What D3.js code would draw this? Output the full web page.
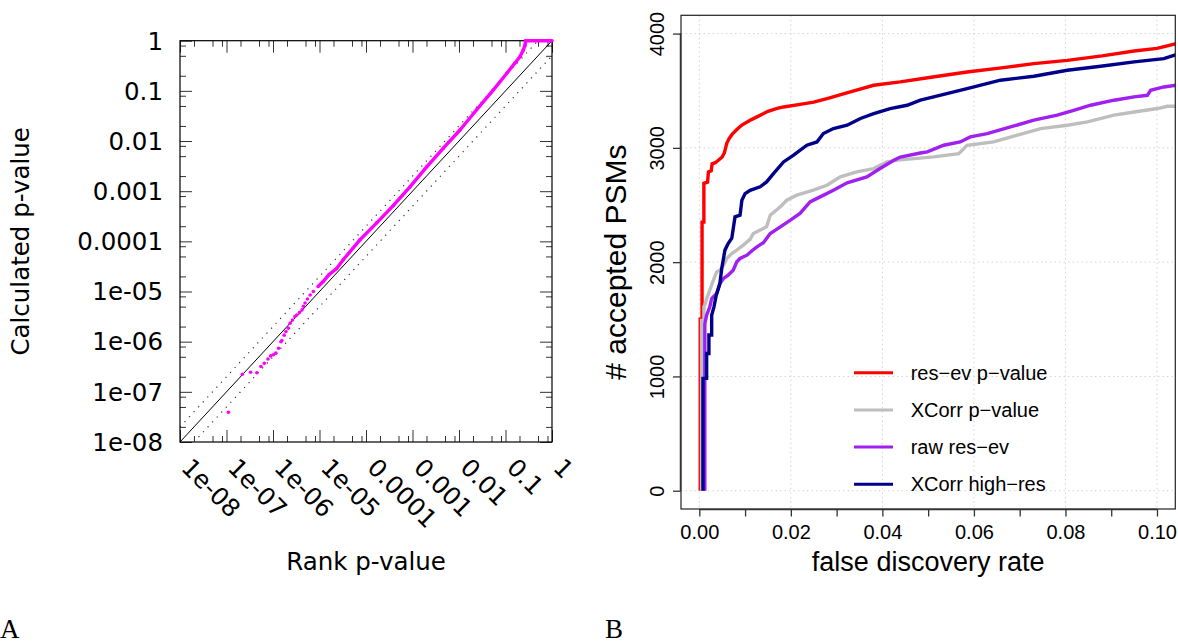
<!DOCTYPE html>
<html><head><meta charset="utf-8">
<script src="https://cdn.jsdelivr.net/npm/d3@7"></script>
<style>body{margin:0;background:#fff} svg{display:block}</style>
</head><body>
<svg id="c" width="1178" height="644"></svg>
<script>
// ---------------- Panel A data ----------------
const rankSparse = [1.1e-7, 2.19e-7, 3.3e-7, 4.5e-7, 5.5e-7, 6.5e-7, 7.8e-7, 8.9e-7, 1.02e-6, 1.15e-6, 1.32e-6, 1.48e-6, 1.55e-6, 1.74e-6, 1.9e-6, 2.14e-6, 2.34e-6, 2.63e-6, 2.95e-6, 3.24e-6, 3.7e-6, 4.2e-6, 4.5e-6, 4.9e-6, 5.5e-6, 6.3e-6, 7.4e-6];
const calcSparse = [3.9e-8, 2.24e-7, 2.45e-7, 2.4e-7, 3.2e-7, 3.7e-7, 4.5e-7, 5.2e-7, 5.5e-7, 5.9e-7, 7.4e-7, 1.0e-6, 1.05e-6, 1.35e-6, 1.6e-6, 1.86e-6, 2.34e-6, 2.7e-6, 3.16e-6, 3.4e-6, 3.8e-6, 4.3e-6, 5.1e-6, 5.9e-6, 7.1e-6, 8.5e-6, 1.0e-5];
const rankDense = [9.3e-6, 1.2e-5, 1.58e-5, 2.34e-5, 3.24e-5, 7.4e-5, 1.7e-4, 3.9e-4, 8.9e-4, 2.04e-3, 4.6e-3, 1.05e-2, 2.4e-2, 5.5e-2, 0.107, 0.158, 0.204, 0.24, 0.263, 0.269, 0.27, 1];
const calcDense = [1.26e-5, 1.58e-5, 2.14e-5, 2.88e-5, 4.3e-5, 1.07e-4, 2.34e-4, 5.2e-4, 1.23e-3, 3.1e-3, 7.2e-3, 1.66e-2, 4.2e-2, 0.105, 0.224, 0.355, 0.479, 0.646, 0.81, 0.955, 1, 1];
const logTickValues = [1e-8, 1e-7, 1e-6, 1e-5, 1e-4, 1e-3, 1e-2, 1e-1, 1];
const logTickLabels = ["1e-08", "1e-07", "1e-06", "1e-05", "0.0001", "0.001", "0.01", "0.1", "1"];
const minorMultiples = [2, 5, 8];
const bandFactor = 2;

// ---------------- Panel B data ----------------
const fdrRed = [0.0002,0.0002,0.0006,0.0006,0.0010,0.0010,0.0018,0.0020,0.0026,0.0028,0.0035,0.0050,0.0055,0.0060,0.0065,0.0072,0.0082,0.0093,0.0110,0.0126,0.0150,0.0170,0.0184,0.0220,0.0250,0.0279,0.0330,0.0381,0.0439,0.0510,0.0585,0.0660,0.0731,0.0804,0.0880,0.0950,0.1000,0.1042];
const psmRed = [0,1500,1500,2350,2350,2690,2700,2790,2800,2860,2870,2920,2960,3040,3080,3120,3160,3200,3240,3271,3320,3345,3358,3380,3400,3431,3490,3548,3577,3620,3664,3700,3737,3766,3805,3848,3870,3912];
const fdrGray = [0.0005,0.0005,0.0010,0.0010,0.0012,0.0016,0.0023,0.0032,0.0038,0.0045,0.0053,0.0060,0.0071,0.0082,0.0096,0.0111,0.0118,0.0147,0.0155,0.0177,0.0191,0.0213,0.0249,0.0279,0.0308,0.0344,0.0381,0.0410,0.0439,0.0512,0.0567,0.0585,0.0643,0.0695,0.0746,0.0804,0.0848,0.0906,0.0950,0.1001,0.1023,0.1042];
const psmGray = [0,1490,1490,1610,1625,1680,1755,1857,1915,1930,1974,2032,2076,2105,2149,2200,2251,2309,2411,2484,2542,2586,2630,2673,2746,2790,2819,2877,2895,2921,2950,3023,3052,3111,3169,3198,3227,3286,3314,3344,3364,3364];
const fdrPurple = [0.0012,0.0012,0.0016,0.0023,0.0027,0.0038,0.0045,0.0053,0.0063,0.0074,0.0082,0.0089,0.0104,0.0115,0.0126,0.0140,0.0155,0.0177,0.0199,0.0220,0.0242,0.0264,0.0293,0.0323,0.0366,0.0395,0.0425,0.0439,0.0483,0.0498,0.0534,0.0570,0.0592,0.0629,0.0680,0.0731,0.0782,0.0818,0.0855,0.0906,0.0950,0.0979,0.0986,0.1015,0.1042];
const psmPurple = [0,1460,1536,1609,1682,1726,1813,1857,1886,1930,2003,2032,2061,2100,2134,2170,2251,2309,2367,2426,2527,2571,2630,2694,2746,2819,2892,2920,2955,2965,3023,3052,3096,3125,3183,3242,3286,3329,3373,3417,3446,3460,3504,3533,3548];
const fdrNavy = [0.0008,0.0008,0.0016,0.0016,0.0021,0.0021,0.0027,0.0027,0.0032,0.0037,0.0045,0.0049,0.0056,0.0063,0.0071,0.0078,0.0089,0.0093,0.0100,0.0111,0.0133,0.0147,0.0162,0.0184,0.0206,0.0235,0.0257,0.0271,0.0293,0.0323,0.0352,0.0381,0.0417,0.0454,0.0483,0.0512,0.0585,0.0658,0.0731,0.0804,0.0877,0.0950,0.1015,0.1042];
const psmNavy = [0,983,983,1201,1201,1362,1362,1536,1609,1711,1813,1945,2105,2163,2210,2396,2411,2542,2600,2629,2659,2702,2775,2877,2936,3023,3052,3125,3169,3198,3257,3300,3344,3373,3417,3446,3519,3592,3627,3679,3714,3752,3781,3816];
const seriesNames = ["res\u2212ev p\u2212value", "XCorr p\u2212value", "raw res\u2212ev", "XCorr high\u2212res"];
const seriesColors = ["#ff0000", "#bebebe", "#a020f0", "#00008b"];
const fdrTickValues = [0, 0.01, 0.02, 0.03, 0.04, 0.05, 0.06, 0.07, 0.08, 0.09, 0.10];
const fdrTickLabels = ["0.00", "", "0.02", "", "0.04", "", "0.06", "", "0.08", "", "0.10"];
const psmTickValues = [0, 1000, 2000, 3000, 4000];
const psmTickLabels = ["0", "1000", "2000", "3000", "4000"];

const svg = d3.select("#c");

// ================= Panel A =================
const A = {l: 180, r: 552, t: 40.7, b: 442};
const xL = d3.scaleLog().domain([1e-8, 1]).range([A.l, A.r]);
const yL = d3.scaleLog().domain([1e-8, 1]).range([A.b, A.t]);
const fontA = "'DejaVu Sans', sans-serif";

const minorVals = [];
for (let k = 0; k < logTickValues.length - 1; k++) minorMultiples.forEach(m => minorVals.push(logTickValues[k] * m));

const gA = svg.append("g");
function drawTicks(axisFn, scale, vals, size, transform) {
  const g = gA.append("g").attr("transform", transform)
    .call(axisFn(scale).tickValues(vals).tickSize(size).tickSizeOuter(0).tickFormat(""));
  g.select(".domain").remove();
  g.selectAll("line").attr("stroke", "#333").attr("stroke-width", 1);
}
[[logTickValues, -12], [minorVals, -6]].forEach(([vals, s]) => {
  drawTicks(d3.axisBottom, xL, vals, s, `translate(0,${A.b})`);
  drawTicks(d3.axisTop, xL, vals, s, `translate(0,${A.t})`);
  drawTicks(d3.axisLeft, yL, vals, s, `translate(${A.l},0)`);
  drawTicks(d3.axisRight, yL, vals, s, `translate(${A.r},0)`);
});
gA.append("rect").attr("x", A.l).attr("y", A.t).attr("width", A.r - A.l).attr("height", A.b - A.t)
  .attr("fill", "none").attr("stroke", "#000").attr("stroke-width", 1.2);

// reference lines
svg.append("clipPath").attr("id", "clipA").append("rect")
  .attr("x", A.l).attr("y", A.t).attr("width", A.r - A.l).attr("height", A.b - A.t);
const lineL = d3.line().x(d => xL(d[0])).y(d => yL(d[1]));
const gRef = gA.append("g").attr("clip-path", "url(#clipA)");
gRef.append("path").attr("d", lineL([[1e-8, 1e-8], [1, 1]])).attr("stroke", "#000").attr("stroke-width", 1).attr("fill", "none");
gRef.append("path").attr("d", lineL([[1e-8, 1e-8 * bandFactor], [1 / bandFactor, 1]])).attr("stroke", "#333")
  .attr("stroke-width", 1.2).attr("stroke-dasharray", "1.2,5.5").attr("fill", "none");
gRef.append("path").attr("d", lineL([[1e-8 * bandFactor, 1e-8], [1, 1 / bandFactor]])).attr("stroke", "#333")
  .attr("stroke-width", 1.2).attr("stroke-dasharray", "1.2,5.5").attr("fill", "none");

// magenta points
const dense = rankDense.map((r, i) => [r, calcDense[i]]);
const sparse = rankSparse.map((r, i) => [r, calcSparse[i]]);
gA.append("path").attr("d", lineL(dense)).attr("stroke", "#ff00ff").attr("stroke-width", 3.4)
  .attr("fill", "none").attr("stroke-linejoin", "round");
gA.selectAll("circle.sp").data(sparse.concat(dense)).join("circle").attr("class", "sp")
  .attr("cx", d => xL(d[0])).attr("cy", d => yL(d[1])).attr("r", 1.8).attr("fill", "#ff00ff");

// labels
gA.selectAll("text.yl").data(logTickValues).join("text").attr("class", "yl")
  .attr("x", 163).attr("y", d => yL(d)).attr("dy", "0.36em").attr("text-anchor", "end")
  .attr("font-family", fontA).attr("font-size", 24.5).text((d, i) => logTickLabels[i]);
gA.selectAll("text.xl").data(logTickValues).join("text").attr("class", "xl")
  .attr("transform", d => `translate(${xL(d)},469) rotate(45)`)
  .attr("font-family", fontA).attr("font-size", 24.5).text((d, i) => logTickLabels[i]);
gA.append("text").attr("transform", `translate(29,${(A.t + A.b) / 2}) rotate(-90)`).attr("text-anchor", "middle")
  .attr("font-family", fontA).attr("font-size", 24.5).text("Calculated p-value");
gA.append("text").attr("x", (A.l + A.r) / 2).attr("y", 570).attr("text-anchor", "middle")
  .attr("font-family", fontA).attr("font-size", 24.5).text("Rank p-value");

// ================= Panel B =================
const B = {l: 681, r: 1175.3, t: 15.3, b: 509};
const fontB = "'Liberation Sans', Arial, sans-serif";
const xB = d3.scaleLinear().domain([-0.004, 0.104]).range([B.l, B.r]);
const yB = d3.scaleLinear().domain([-160, 4160]).range([B.b, B.t]);
const gB = svg.append("g");

// grid
gB.selectAll("line.gx").data(fdrTickValues.filter((d, i) => fdrTickLabels[i] !== "")).join("line").attr("class", "gx")
  .attr("x1", d => xB(d)).attr("x2", d => xB(d)).attr("y1", B.t).attr("y2", B.b)
  .attr("stroke", "#d3d3d3").attr("stroke-width", 1).attr("stroke-dasharray", "1.5,3");
gB.selectAll("line.gy").data(psmTickValues).join("line").attr("class", "gy")
  .attr("x1", B.l).attr("x2", B.r).attr("y1", d => yB(d)).attr("y2", d => yB(d))
  .attr("stroke", "#d3d3d3").attr("stroke-width", 1).attr("stroke-dasharray", "1.5,3");

// curves
svg.append("clipPath").attr("id", "clipB").append("rect")
  .attr("x", B.l).attr("y", B.t).attr("width", B.r - B.l).attr("height", B.b - B.t);
const lineB = d3.line().x(d => xB(d[0])).y(d => yB(d[1]));
const seriesX = [fdrRed, fdrGray, fdrPurple, fdrNavy];
const seriesY = [psmRed, psmGray, psmPurple, psmNavy];
const gC = gB.append("g").attr("clip-path", "url(#clipB)");
seriesX.forEach((xs, s) => {
  gC.append("path").attr("d", lineB(xs.map((v, i) => [v, seriesY[s][i]])))
    .attr("fill", "none").attr("stroke", seriesColors[s]).attr("stroke-width", 3.4)
    .attr("stroke-linejoin", "miter");
});

// box + axes
gB.append("rect").attr("x", B.l).attr("y", B.t).attr("width", B.r - B.l).attr("height", B.b - B.t)
  .attr("fill", "none").attr("stroke", "#222").attr("stroke-width", 1.2);
const ax = gB.append("g").attr("transform", `translate(0,${B.b})`)
  .call(d3.axisBottom(xB).tickValues(fdrTickValues).tickSize(7.5).tickSizeOuter(0).tickFormat((d, i) => fdrTickLabels[i]));
ax.select(".domain").attr("d", `M${xB(0)},0.5H${xB(0.1)}`).attr("stroke", "#333").attr("stroke-width", 1.5);
ax.selectAll("line").attr("stroke", "#333").attr("stroke-width", 1.3);
ax.selectAll("text").attr("y", 30).attr("dy", 0).attr("font-family", fontB).attr("font-size", 20).attr("fill", "#000");
const ay = gB.append("g").attr("transform", `translate(${B.l},0)`)
  .call(d3.axisLeft(yB).tickValues(psmTickValues).tickSize(8).tickSizeOuter(0).tickFormat((d, i) => psmTickLabels[i]));
ay.select(".domain").attr("d", `M-0.5,${yB(0)}V${yB(4000)}`).attr("stroke", "#333").attr("stroke-width", 1.5);
ay.selectAll("line").attr("stroke", "#333").attr("stroke-width", 1.3);
ay.selectAll("text").attr("x", 0).attr("dy", 0).attr("text-anchor", "middle")
  .attr("transform", "translate(-17.5,0) rotate(-90)")
  .attr("font-family", fontB).attr("font-size", 20).attr("fill", "#000");

gB.append("text").attr("x", (B.l + B.r) / 2).attr("y", 571).attr("text-anchor", "middle")
  .attr("font-family", fontB).attr("font-size", 27).text("false discovery rate");
gB.append("text").attr("transform", `translate(626,${(B.t + B.b) / 2}) rotate(-90)`).attr("text-anchor", "middle")
  .attr("font-family", fontB).attr("font-size", 30).text("# accepted PSMs");

// legend
const leg = gB.append("g");
seriesNames.forEach((name, i) => {
  const y = 372.7 + i * 37.2;
  leg.append("line").attr("x1", 854).attr("x2", 893).attr("y1", y).attr("y2", y)
    .attr("stroke", seriesColors[i]).attr("stroke-width", 3);
  leg.append("text").attr("x", 910.7).attr("y", y + 7).attr("font-family", fontB).attr("font-size", 20).text(name);
});

// panel letters
svg.append("text").attr("x", 0).attr("y", 638).attr("font-family", "'Liberation Serif', serif").attr("font-size", 27).text("A");
svg.append("text").attr("x", 605).attr("y", 638).attr("font-family", "'Liberation Serif', serif").attr("font-size", 27).text("B");
</script>
</body></html>
